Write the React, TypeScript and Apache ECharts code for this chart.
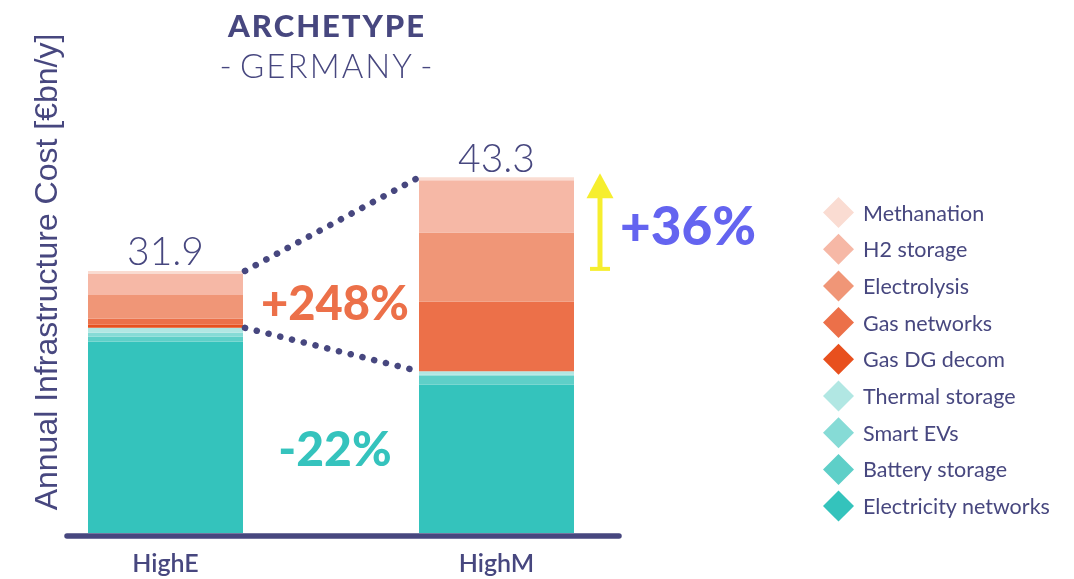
import React, { useEffect, useRef } from "react";
import * as echarts from "echarts";

const categories = ["HighE", "HighM"];
const seriesNames = [
  "Electricity networks",
  "Battery storage",
  "Smart EVs",
  "Thermal storage",
  "Gas DG decom",
  "Gas networks",
  "Electrolysis",
  "H2 storage",
  "Methanation",
];
const electricityNetworks = [23.31, 18.05];
const batteryStorage = [0.57, 1.13];
const smartEVs = [0.49, 0.1];
const thermalStorage = [0.6, 0.4];
const gasDgDecom = [0.37, 0];
const gasNetworks = [0.73, 8.5];
const electrolysis = [2.9, 8.4];
const h2Storage = [2.6, 6.35];
const methanation = [0.33, 0.37];
const seriesColors = [
  "#34c3bc",
  "#5ecfc8",
  "#86dbd6",
  "#b1e7e3",
  "#e8501e",
  "#ec7049",
  "#f09677",
  "#f6b8a6",
  "#fadcd2",
];
const gasChangeLabel = "+248%";
const elecChangeLabel = "-22%";
const totalChangeLabel = "+36%";

const NAVY = "#47477f";
const BAR_W = 155;

export default function App() {
  const ref = useRef<HTMLDivElement>(null);
  useEffect(() => {
    if (!ref.current) return;
    const chart = echarts.init(ref.current, undefined, { renderer: "svg" });
    const values = [
      electricityNetworks,
      batteryStorage,
      smartEVs,
      thermalStorage,
      gasDgDecom,
      gasNetworks,
      electrolysis,
      h2Storage,
      methanation,
    ];
    const totals = categories.map((_, i) => values.reduce((s, v) => s + v[i], 0));
    const elecTotals = categories.map((_, i) =>
      electricityNetworks[i] + batteryStorage[i] + smartEVs[i] + thermalStorage[i]
    );
    const font = "Lato, 'Noto Sans', sans-serif";

    const barSeries = seriesNames.map((name, k) => ({
      name,
      type: "bar",
      stack: "total",
      barWidth: BAR_W,
      data: values[k],
      itemStyle: { color: seriesColors[k] },
      label:
        k === seriesNames.length - 1
          ? {
              show: true,
              position: "top",
              distance: 1,
              formatter: (p: any) => totals[p.dataIndex].toFixed(1),
              fontFamily: font,
              fontWeight: 300,
              fontSize: 39,
              color: NAVY,
            }
          : { show: false },
    }));

    const option: any = {
      animation: false,
      grid: { left: 0, width: 662, top: 40, bottom: 46, outerBoundsMode: "none" },
      xAxis: {
        type: "category",
        data: categories,
        axisLine: { show: false },
        axisTick: { show: false },
        axisLabel: {
          margin: 16,
          fontFamily: font,
          fontWeight: 600,
          fontSize: 25,
          color: NAVY,
        },
      },
      yAxis: { type: "value", min: 0, max: 60, show: false },
      legend: {
        orient: "vertical",
        left: 823,
        top: 197,
        padding: 0,
        icon: "diamond",
        itemWidth: 31,
        itemHeight: 31,
        itemGap: 5.7,
        data: [...seriesNames].reverse(),
        textStyle: {
          fontFamily: font,
          fontSize: 21.5,
          color: NAVY,
          padding: [0, 0, 0, 4],
        },
      },
      series: [
        ...barSeries,
        {
          type: "custom",
          name: "annotations",
          z: 10,
          silent: true,
          data: [[0, 0]],
          renderItem: (params: any, api: any) => {
            const topE = api.coord([0, totals[0]]);
            const topM = api.coord([1, totals[1]]);
            const midE = api.coord([0, elecTotals[0]]);
            const midM = api.coord([1, elecTotals[1]]);
            const dot = {
              stroke: NAVY,
              lineWidth: 6.5,
              lineCap: "round",
              lineDash: [0.1, 12],
              fill: null,
            };
            const ax = topM[0] + BAR_W / 2 + 26;
            const yellow = "#f6ee2e";
            return {
              type: "group",
              children: [
                {
                  type: "line",
                  shape: { x1: topE[0] + BAR_W / 2 + 2, y1: topE[1], x2: topM[0] - BAR_W / 2, y2: topM[1] },
                  style: dot,
                },
                {
                  type: "line",
                  shape: { x1: midE[0] + BAR_W / 2 + 2, y1: midE[1], x2: midM[0] - BAR_W / 2, y2: midM[1] },
                  style: dot,
                },
                {
                  type: "line",
                  shape: { x1: ax, y1: topE[1] - 2, x2: ax, y2: topM[1] + 20 },
                  style: { stroke: yellow, lineWidth: 5 },
                },
                {
                  type: "line",
                  shape: { x1: ax - 10, y1: topE[1] - 2, x2: ax + 10, y2: topE[1] - 2 },
                  style: { stroke: yellow, lineWidth: 4 },
                },
                {
                  type: "polygon",
                  shape: {
                    points: [
                      [ax, topM[1] - 4],
                      [ax - 13.5, topM[1] + 21],
                      [ax + 13.5, topM[1] + 21],
                    ],
                  },
                  style: { fill: yellow },
                },
              ],
            };
          },
        },
      ],
      graphic: [
        {
          type: "text",
          x: 326,
          y: 25,
          style: {
            text: "A R C H E T Y P E".replace(/ /g, "\u200a"),
            fontFamily: font,
            fontWeight: 900,
            fontSize: 31,
            fill: NAVY,
            align: "center",
            verticalAlign: "middle",
          },
        },
        {
          type: "text",
          x: 326,
          y: 65,
          style: {
            text: "-\u2009GERMANY\u2009-".split("").join("\u200a"),
            fontFamily: font,
            fontWeight: 300,
            fontSize: 33,
            fill: NAVY,
            align: "center",
            verticalAlign: "middle",
          },
        },
        {
          type: "text",
          x: 46,
          y: 272,
          rotation: Math.PI / 2,
          style: {
            text: "Annual Infrastructure Cost [€bn/y]",
            fontFamily: "'Liberation Sans', Arial, sans-serif",
            fontSize: 32,
            fill: NAVY,
            align: "center",
            verticalAlign: "middle",
          },
        },
        {
          type: "text",
          x: 335,
          y: 302,
          style: {
            text: gasChangeLabel,
            fontFamily: font,
            fontWeight: 900,
            fontSize: 47,
            fill: "#ec7049",
            align: "center",
            verticalAlign: "middle",
          },
        },
        {
          type: "text",
          x: 335,
          y: 447,
          style: {
            text: elecChangeLabel,
            fontFamily: font,
            fontWeight: 900,
            fontSize: 48,
            fill: "#35c3bd",
            align: "center",
            verticalAlign: "middle",
          },
        },
        {
          type: "text",
          x: 688,
          y: 224,
          style: {
            text: totalChangeLabel,
            fontFamily: font,
            fontWeight: 900,
            fontSize: 53,
            fill: "#6464f0",
            align: "center",
            verticalAlign: "middle",
          },
        },
        {
          type: "line",
          shape: { x1: 67, y1: 536, x2: 619, y2: 536 },
          style: { stroke: NAVY, lineWidth: 5.5, lineCap: "round" },
        },
      ],
    };
    chart.setOption(option);
    return () => chart.dispose();
  }, []);
  return (
    <div
      ref={ref}
      style={{ position: "fixed", left: 0, top: 0, width: 1074, height: 579 }}
    />
  );
}
